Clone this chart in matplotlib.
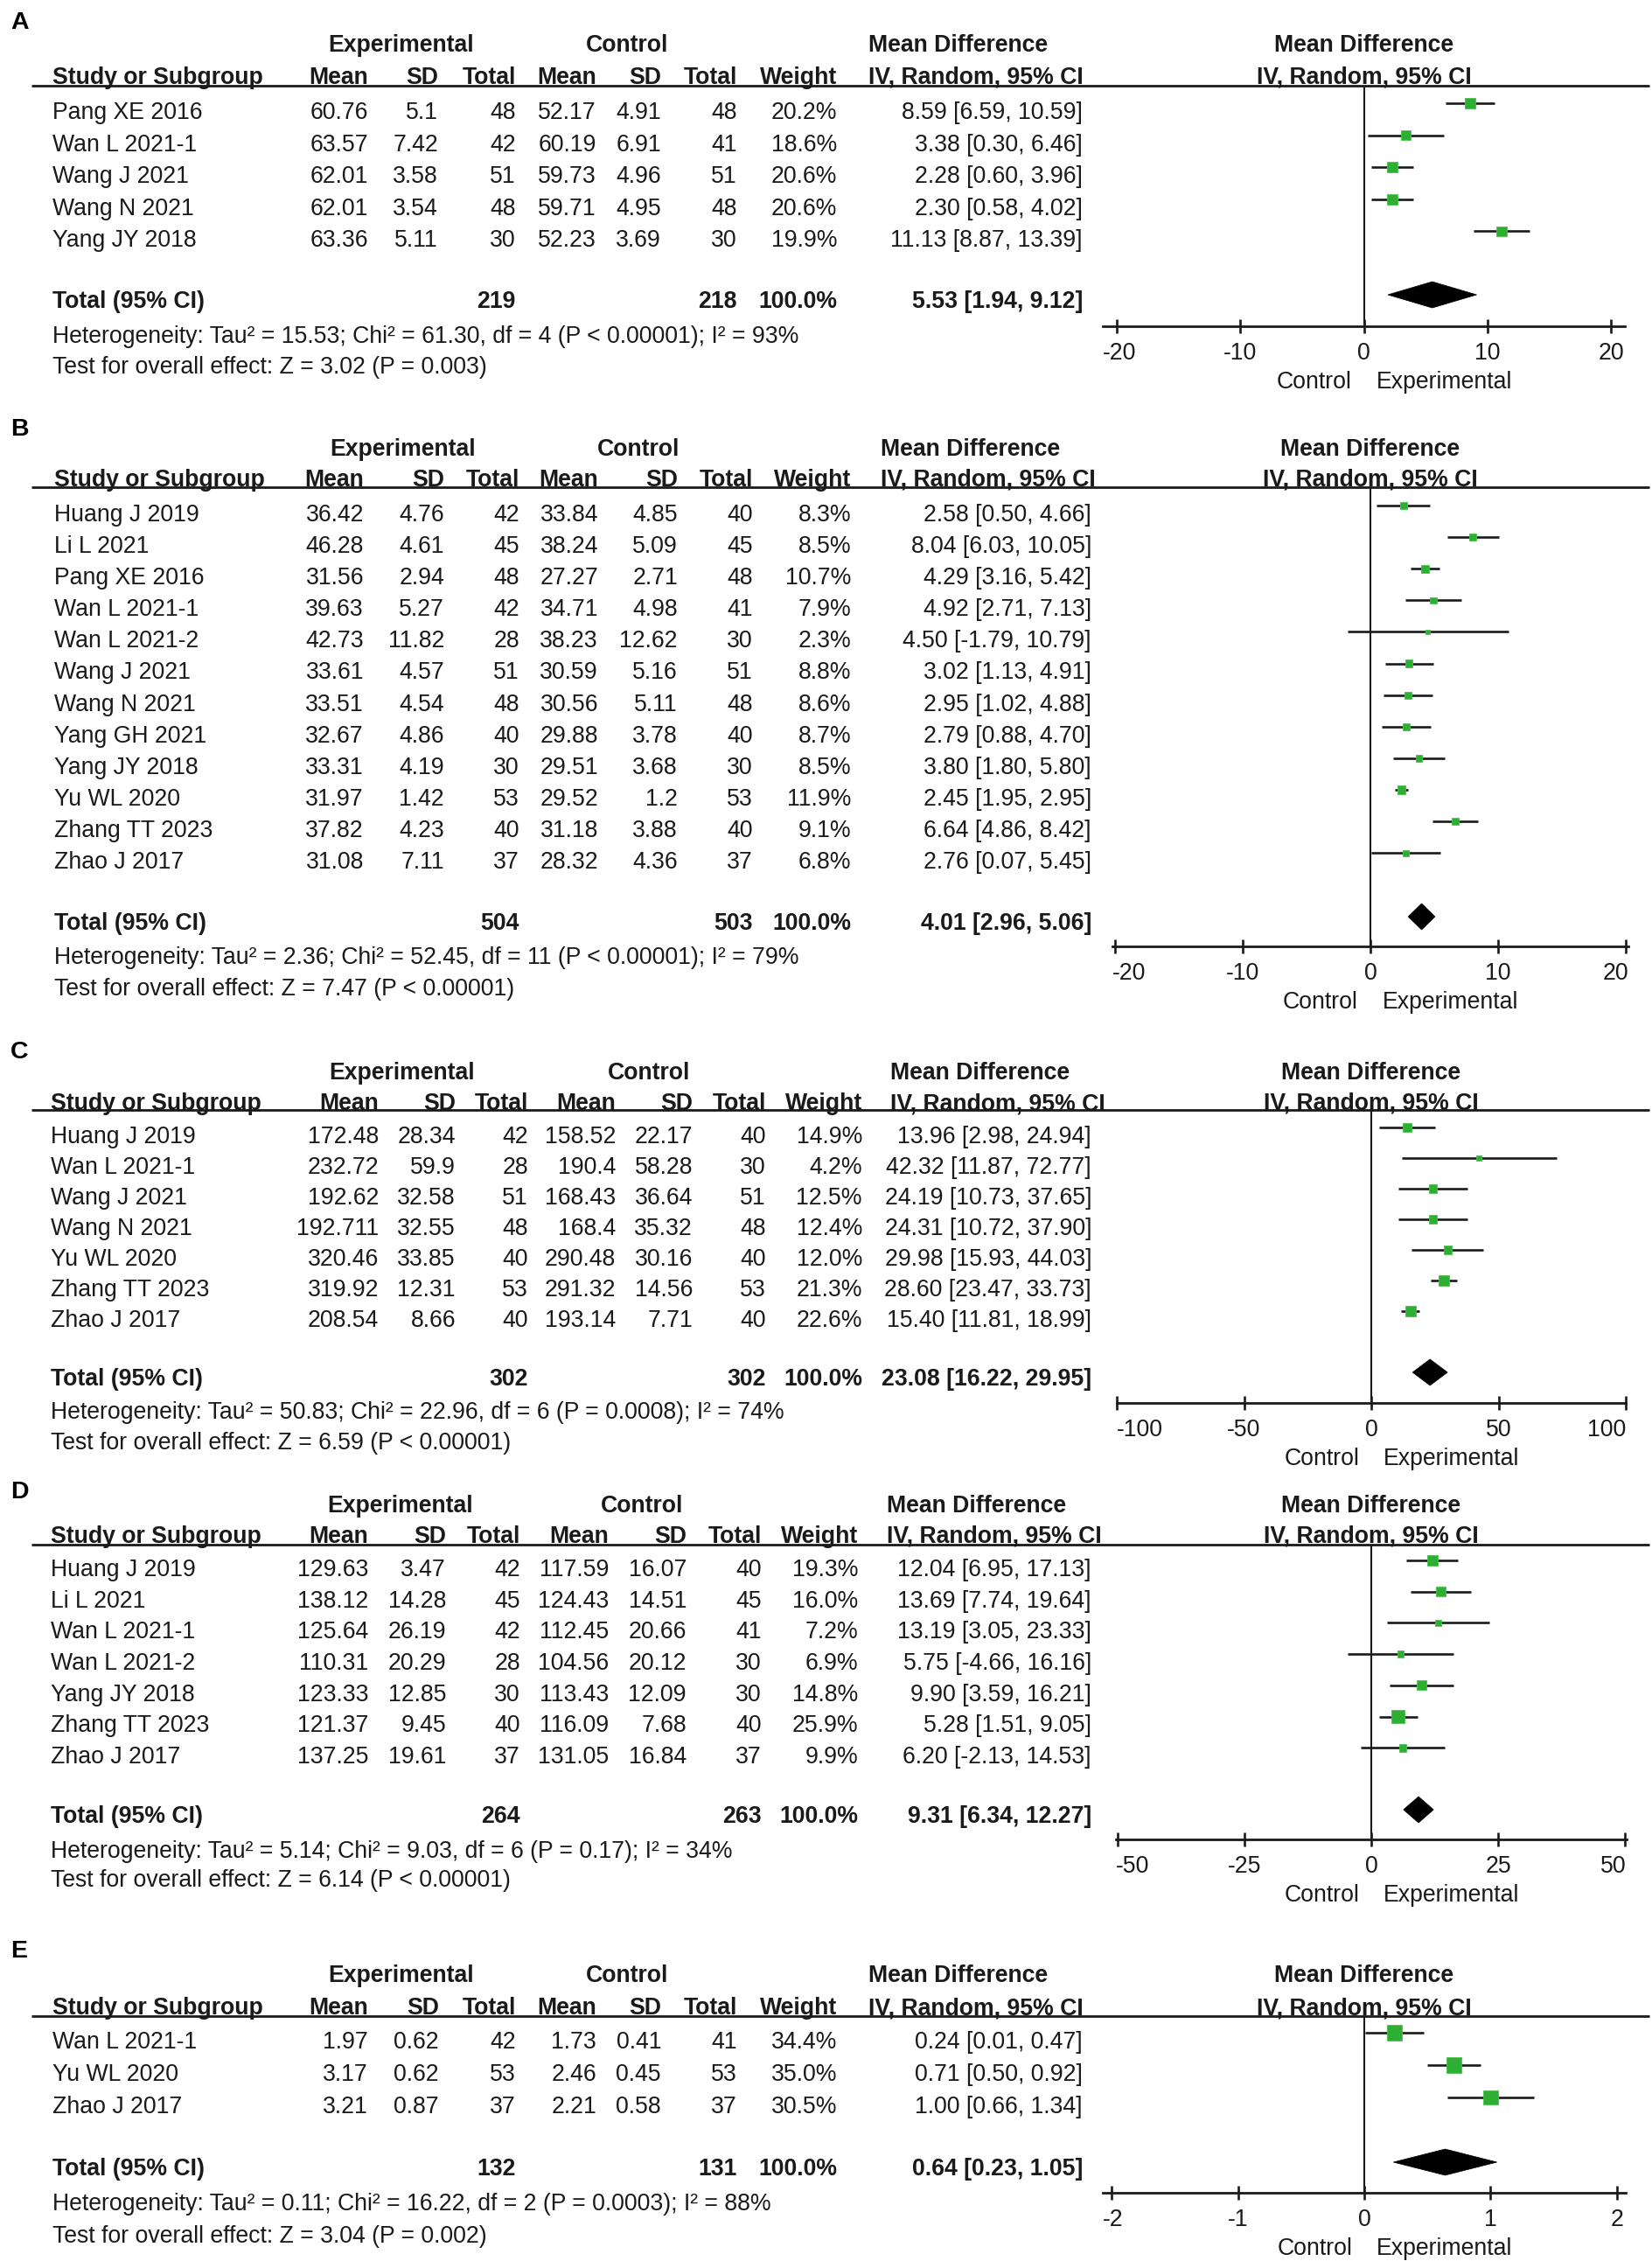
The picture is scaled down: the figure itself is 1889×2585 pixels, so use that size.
import matplotlib
matplotlib.use('Agg')
import matplotlib.pyplot as plt
from matplotlib.patches import Polygon
from matplotlib.transforms import offset_copy
import numpy as np

plt.rcParams['font.family'] = ['Liberation Sans', 'DejaVu Sans']

# ------------------------------------------------------------------ data
A_studies = ["Pang XE 2016", "Wan L 2021-1", "Wang J 2021", "Wang N 2021", "Yang JY 2018"]
A_exp_mean = [60.76, 63.57, 62.01, 62.01, 63.36]
A_exp_sd = [5.1, 7.42, 3.58, 3.54, 5.11]
A_exp_n = [48, 42, 51, 48, 30]
A_ctl_mean = [52.17, 60.19, 59.73, 59.71, 52.23]
A_ctl_sd = [4.91, 6.91, 4.96, 4.95, 3.69]
A_ctl_n = [48, 41, 51, 48, 30]
A_weight = [20.2, 18.6, 20.6, 20.6, 19.9]
A_md = [8.59, 3.38, 2.28, 2.30, 11.13]
A_lo = [6.59, 0.30, 0.60, 0.58, 8.87]
A_hi = [10.59, 6.46, 3.96, 4.02, 13.39]
A_totals = [219, 218]
A_pooled = [5.53, 1.94, 9.12]
A_het = "Heterogeneity: Tau\u00b2 = 15.53; Chi\u00b2 = 61.30, df = 4 (P < 0.00001); I\u00b2 = 93%"
A_test = "Test for overall effect: Z = 3.02 (P = 0.003)"
A_ticks = [-20, -10, 0, 10, 20]

B_studies = ["Huang J 2019", "Li L 2021", "Pang XE 2016", "Wan L 2021-1", "Wan L 2021-2",
             "Wang J 2021", "Wang N 2021", "Yang GH 2021", "Yang JY 2018", "Yu WL 2020",
             "Zhang TT 2023", "Zhao J 2017"]
B_exp_mean = [36.42, 46.28, 31.56, 39.63, 42.73, 33.61, 33.51, 32.67, 33.31, 31.97, 37.82, 31.08]
B_exp_sd = [4.76, 4.61, 2.94, 5.27, 11.82, 4.57, 4.54, 4.86, 4.19, 1.42, 4.23, 7.11]
B_exp_n = [42, 45, 48, 42, 28, 51, 48, 40, 30, 53, 40, 37]
B_ctl_mean = [33.84, 38.24, 27.27, 34.71, 38.23, 30.59, 30.56, 29.88, 29.51, 29.52, 31.18, 28.32]
B_ctl_sd = [4.85, 5.09, 2.71, 4.98, 12.62, 5.16, 5.11, 3.78, 3.68, 1.2, 3.88, 4.36]
B_ctl_n = [40, 45, 48, 41, 30, 51, 48, 40, 30, 53, 40, 37]
B_weight = [8.3, 8.5, 10.7, 7.9, 2.3, 8.8, 8.6, 8.7, 8.5, 11.9, 9.1, 6.8]
B_md = [2.58, 8.04, 4.29, 4.92, 4.50, 3.02, 2.95, 2.79, 3.80, 2.45, 6.64, 2.76]
B_lo = [0.50, 6.03, 3.16, 2.71, -1.79, 1.13, 1.02, 0.88, 1.80, 1.95, 4.86, 0.07]
B_hi = [4.66, 10.05, 5.42, 7.13, 10.79, 4.91, 4.88, 4.70, 5.80, 2.95, 8.42, 5.45]
B_totals = [504, 503]
B_pooled = [4.01, 2.96, 5.06]
B_het = "Heterogeneity: Tau\u00b2 = 2.36; Chi\u00b2 = 52.45, df = 11 (P < 0.00001); I\u00b2 = 79%"
B_test = "Test for overall effect: Z = 7.47 (P < 0.00001)"
B_ticks = [-20, -10, 0, 10, 20]

C_studies = ["Huang J 2019", "Wan L 2021-1", "Wang J 2021", "Wang N 2021", "Yu WL 2020",
             "Zhang TT 2023", "Zhao J 2017"]
C_exp_mean = [172.48, 232.72, 192.62, 192.711, 320.46, 319.92, 208.54]
C_exp_sd = [28.34, 59.9, 32.58, 32.55, 33.85, 12.31, 8.66]
C_exp_n = [42, 28, 51, 48, 40, 53, 40]
C_ctl_mean = [158.52, 190.4, 168.43, 168.4, 290.48, 291.32, 193.14]
C_ctl_sd = [22.17, 58.28, 36.64, 35.32, 30.16, 14.56, 7.71]
C_ctl_n = [40, 30, 51, 48, 40, 53, 40]
C_weight = [14.9, 4.2, 12.5, 12.4, 12.0, 21.3, 22.6]
C_md = [13.96, 42.32, 24.19, 24.31, 29.98, 28.60, 15.40]
C_lo = [2.98, 11.87, 10.73, 10.72, 15.93, 23.47, 11.81]
C_hi = [24.94, 72.77, 37.65, 37.90, 44.03, 33.73, 18.99]
C_totals = [302, 302]
C_pooled = [23.08, 16.22, 29.95]
C_het = "Heterogeneity: Tau\u00b2 = 50.83; Chi\u00b2 = 22.96, df = 6 (P = 0.0008); I\u00b2 = 74%"
C_test = "Test for overall effect: Z = 6.59 (P < 0.00001)"
C_ticks = [-100, -50, 0, 50, 100]

D_studies = ["Huang J 2019", "Li L 2021", "Wan L 2021-1", "Wan L 2021-2", "Yang JY 2018",
             "Zhang TT 2023", "Zhao J 2017"]
D_exp_mean = [129.63, 138.12, 125.64, 110.31, 123.33, 121.37, 137.25]
D_exp_sd = [3.47, 14.28, 26.19, 20.29, 12.85, 9.45, 19.61]
D_exp_n = [42, 45, 42, 28, 30, 40, 37]
D_ctl_mean = [117.59, 124.43, 112.45, 104.56, 113.43, 116.09, 131.05]
D_ctl_sd = [16.07, 14.51, 20.66, 20.12, 12.09, 7.68, 16.84]
D_ctl_n = [40, 45, 41, 30, 30, 40, 37]
D_weight = [19.3, 16.0, 7.2, 6.9, 14.8, 25.9, 9.9]
D_md = [12.04, 13.69, 13.19, 5.75, 9.90, 5.28, 6.20]
D_lo = [6.95, 7.74, 3.05, -4.66, 3.59, 1.51, -2.13]
D_hi = [17.13, 19.64, 23.33, 16.16, 16.21, 9.05, 14.53]
D_totals = [264, 263]
D_pooled = [9.31, 6.34, 12.27]
D_het = "Heterogeneity: Tau\u00b2 = 5.14; Chi\u00b2 = 9.03, df = 6 (P = 0.17); I\u00b2 = 34%"
D_test = "Test for overall effect: Z = 6.14 (P < 0.00001)"
D_ticks = [-50, -25, 0, 25, 50]

E_studies = ["Wan L 2021-1", "Yu WL 2020", "Zhao J 2017"]
E_exp_mean = [1.97, 3.17, 3.21]
E_exp_sd = [0.62, 0.62, 0.87]
E_exp_n = [42, 53, 37]
E_ctl_mean = [1.73, 2.46, 2.21]
E_ctl_sd = [0.41, 0.45, 0.58]
E_ctl_n = [41, 53, 37]
E_weight = [34.4, 35.0, 30.5]
E_md = [0.24, 0.71, 1.00]
E_lo = [0.01, 0.50, 0.66]
E_hi = [0.47, 0.92, 1.34]
E_totals = [132, 131]
E_pooled = [0.64, 0.23, 1.05]
E_het = "Heterogeneity: Tau\u00b2 = 0.11; Chi\u00b2 = 16.22, df = 2 (P = 0.0003); I\u00b2 = 88%"
E_test = "Test for overall effect: Z = 3.04 (P = 0.002)"
E_ticks = [-2, -1, 0, 1, 2]

PANELS = {
    'A': (A_studies, A_exp_mean, A_exp_sd, A_exp_n, A_ctl_mean, A_ctl_sd, A_ctl_n,
          A_weight, A_md, A_lo, A_hi, A_totals, A_pooled, A_het, A_test, A_ticks),
    'B': (B_studies, B_exp_mean, B_exp_sd, B_exp_n, B_ctl_mean, B_ctl_sd, B_ctl_n,
          B_weight, B_md, B_lo, B_hi, B_totals, B_pooled, B_het, B_test, B_ticks),
    'C': (C_studies, C_exp_mean, C_exp_sd, C_exp_n, C_ctl_mean, C_ctl_sd, C_ctl_n,
          C_weight, C_md, C_lo, C_hi, C_totals, C_pooled, C_het, C_test, C_ticks),
    'D': (D_studies, D_exp_mean, D_exp_sd, D_exp_n, D_ctl_mean, D_ctl_sd, D_ctl_n,
          D_weight, D_md, D_lo, D_hi, D_totals, D_pooled, D_het, D_test, D_ticks),
    'E': (E_studies, E_exp_mean, E_exp_sd, E_exp_n, E_ctl_mean, E_ctl_sd, E_ctl_n,
          E_weight, E_md, E_lo, E_hi, E_totals, E_pooled, E_het, E_test, E_ticks),
}

# ------------------------------------------------------------------ layout (pixels)
LAYOUT = {
    'A': dict(label_y=23, h1=50, h2=87, rule=98, row0=127, dy=36.6, total=343, het=383, test=418,
              axis=373, cols=(60, 421, 501, 590, 682, 756, 843, 957, 1238, 993, 459, 717),
              ax_px=(1261, 1858), xlim=21.1, k=2.56),
    'B': dict(label_y=488, h1=512, h2=547, rule=557, row0=587, dy=36.1, total=1054, het=1093, test=1129,
              axis=1082, cols=(62, 416, 508, 594, 684, 775, 861, 973, 1248, 1007, 461, 730),
              ax_px=(1272, 1862), xlim=20.2, k=2.7),
    'C': dict(label_y=1200, h1=1225, h2=1260, rule=1269, row0=1298, dy=35.0, total=1575, het=1613, test=1648,
              axis=1604, cols=(58, 433, 521, 604, 704, 792, 876, 986, 1248, 1018, 460, 742),
              ax_px=(1277, 1859), xlim=100.0, k=2.6),
    'D': dict(label_y=1703, h1=1720, h2=1755, rule=1766, row0=1793, dy=35.7, total=2075, het=2115, test=2148,
              axis=2103, cols=(58, 421, 510, 595, 696, 785, 871, 981, 1248, 1014, 458, 734),
              ax_px=(1276, 1860), xlim=50.3, k=2.85),
    'E': dict(label_y=2228, h1=2257, h2=2294, rule=2305, row0=2333, dy=37.0, total=2478, het=2518, test=2555,
              axis=2507, cols=(60, 421, 502, 590, 682, 756, 843, 957, 1238, 993, 459, 717),
              ax_px=(1261, 1859), xlim=2.07, k=3.0),
}

W, H = 1889, 2585
DPI = 100
FS = 19.2          # points
BASE = 9           # baseline offset below visual centre, px
TXT = '#1a1a1a'
GREEN = '#2fae34'
LW = 1.9

fig = plt.figure(figsize=(W / DPI, H / DPI), dpi=DPI)
fig.patch.set_facecolor('white')
ov = fig.add_axes([0, 0, 1, 1])
ov.set_xlim(0, W)
ov.set_ylim(H, 0)
ov.axis('off')
ov.patch.set_alpha(0)


def t(x, y, s, ha='left', bold=False, size=FS):
    ov.text(x, y + BASE, s, ha=ha, va='baseline', fontsize=size, color=TXT,
            fontweight='bold' if bold else 'normal')


def fmt(v):
    return str(v)


forest_axes = []
for tag, data in PANELS.items():
    (studies, m1, s1, n1, m2, s2, n2, wt, md, lo, hi, totals, pooled, het, test, ticks) = data
    L = LAYOUT[tag]
    (c_study, c_m1, c_sd1, c_n1, c_m2, c_sd2, c_n2, c_wt, c_ci, c_md, c_exp, c_ctl) = L['cols']

    # panel letter
    ov.text(12, L['label_y'] + 10, tag, ha='left', va='baseline', fontsize=20.5,
            fontweight='bold', color='black')

    # header rows
    t(c_exp, L['h1'], 'Experimental', ha='center', bold=True)
    t(c_ctl, L['h1'], 'Control', ha='center', bold=True)
    t(c_md, L['h1'], 'Mean Difference', bold=True)
    t(c_study, L['h2'], 'Study or Subgroup', bold=True)
    for x, s in zip((c_m1, c_sd1, c_n1, c_m2, c_sd2, c_n2, c_wt),
                    ('Mean', 'SD', 'Total', 'Mean', 'SD', 'Total', 'Weight')):
        t(x, L['h2'], s, ha='right', bold=True)
    t(c_md, L['h2'], 'IV, Random, 95% CI', bold=True)
    ov.plot([36, 1886], [L['rule'], L['rule']], color=TXT, lw=2.0, solid_capstyle='butt')

    # study rows
    rows_y = [L['row0'] + i * L['dy'] for i in range(len(studies))]
    for i, y in enumerate(rows_y):
        t(c_study, y, studies[i])
        t(c_m1, y, fmt(m1[i]), ha='right')
        t(c_sd1, y, fmt(s1[i]), ha='right')
        t(c_n1, y, str(n1[i]), ha='right')
        t(c_m2, y, fmt(m2[i]), ha='right')
        t(c_sd2, y, fmt(s2[i]), ha='right')
        t(c_n2, y, str(n2[i]), ha='right')
        t(c_wt, y, f"{wt[i]:.1f}%", ha='right')
        t(c_ci, y, f"{md[i]:.2f} [{lo[i]:.2f}, {hi[i]:.2f}]", ha='right')

    # total row
    ty = L['total']
    t(c_study, ty, 'Total (95% CI)', bold=True)
    t(c_n1, ty, str(totals[0]), ha='right', bold=True)
    t(c_n2, ty, str(totals[1]), ha='right', bold=True)
    t(c_wt, ty, '100.0%', ha='right', bold=True)
    t(c_ci, ty, f"{pooled[0]:.2f} [{pooled[1]:.2f}, {pooled[2]:.2f}]", ha='right', bold=True)
    t(c_study, L['het'], het)
    t(c_study, L['test'], test)

    # forest axes: x in data units, y in figure pixels
    x0, x1 = L['ax_px']
    top, bot = L['rule'], L['axis']
    ax = fig.add_axes([x0 / W, 1 - bot / H, (x1 - x0) / W, (bot - top) / H])
    ax.patch.set_alpha(0)
    ax.set_xlim(-L['xlim'], L['xlim'])
    ax.set_ylim(bot, top)
    for sp in ('top', 'left', 'right'):
        ax.spines[sp].set_visible(False)
    ax.spines['bottom'].set_linewidth(2.0)
    ax.spines['bottom'].set_color(TXT)
    ax.set_yticks([])
    ax.set_xticks(ticks)
    ax.tick_params(axis='x', direction='inout', length=12, width=1.9, color=TXT,
                   labelbottom=False)
    ax.axvline(0, color=TXT, lw=1.5, zorder=1)

    ys = np.array(rows_y) - 9
    ax.hlines(ys, lo, hi, color=TXT, lw=LW, zorder=2)
    side_px = np.maximum(L['k'] * np.sqrt(np.array(wt)), 5.5)
    ax.scatter(md, ys, s=(side_px * 72 / DPI) ** 2, marker='s', color=GREEN,
               edgecolors='#4cc04f', linewidths=0.6, zorder=3, clip_on=False)

    cy = ty - 6
    dia = Polygon([(pooled[1], cy), (pooled[0], cy - 15), (pooled[2], cy), (pooled[0], cy + 15)],
                  closed=True, facecolor='black', edgecolor='black', lw=0.5, zorder=3)
    ax.add_patch(dia)

    # right-hand headers centred on the zero line
    ax.text(0, L['h1'] + BASE, 'Mean Difference', ha='center', va='baseline', fontsize=FS,
            fontweight='bold', color=TXT, clip_on=False)
    ax.text(0, L['h2'] + BASE, 'IV, Random, 95% CI', ha='center', va='baseline', fontsize=FS,
            fontweight='bold', color=TXT, clip_on=False)

    labels = []
    for tk in ticks:
        labels.append(ax.text(tk, bot + 29 + BASE, f"{tk:g}", ha='center', va='baseline',
                              fontsize=FS, color=TXT, clip_on=False))
    tl = offset_copy(ax.transData, fig=fig, x=-14, y=0, units='dots')
    tr = offset_copy(ax.transData, fig=fig, x=14, y=0, units='dots')
    ax.text(0, bot + 62 + BASE, 'Control', ha='right', va='baseline', fontsize=FS,
            color=TXT, transform=tl, clip_on=False)
    ax.text(0, bot + 62 + BASE, 'Experimental', ha='left', va='baseline', fontsize=FS,
            color=TXT, transform=tr, clip_on=False)
    forest_axes.append((ax, labels))

# keep end tick labels inside the axis line
fig.canvas.draw()
renderer = fig.canvas.get_renderer()
for ax, labels in forest_axes:
    inv = ax.transData.inverted()
    for lab in (labels[0], labels[-1]):
        bb = lab.get_window_extent(renderer)
        if bb.x0 < ax.bbox.x0:
            xd = inv.transform((ax.bbox.x0, 0))[0]
            lab.set_x(xd)
            lab.set_ha('left')
        elif bb.x1 > ax.bbox.x1:
            xd = inv.transform((ax.bbox.x1, 0))[0]
            lab.set_x(xd)
            lab.set_ha('right')

fig.savefig('out.png', dpi=DPI, facecolor='white')
